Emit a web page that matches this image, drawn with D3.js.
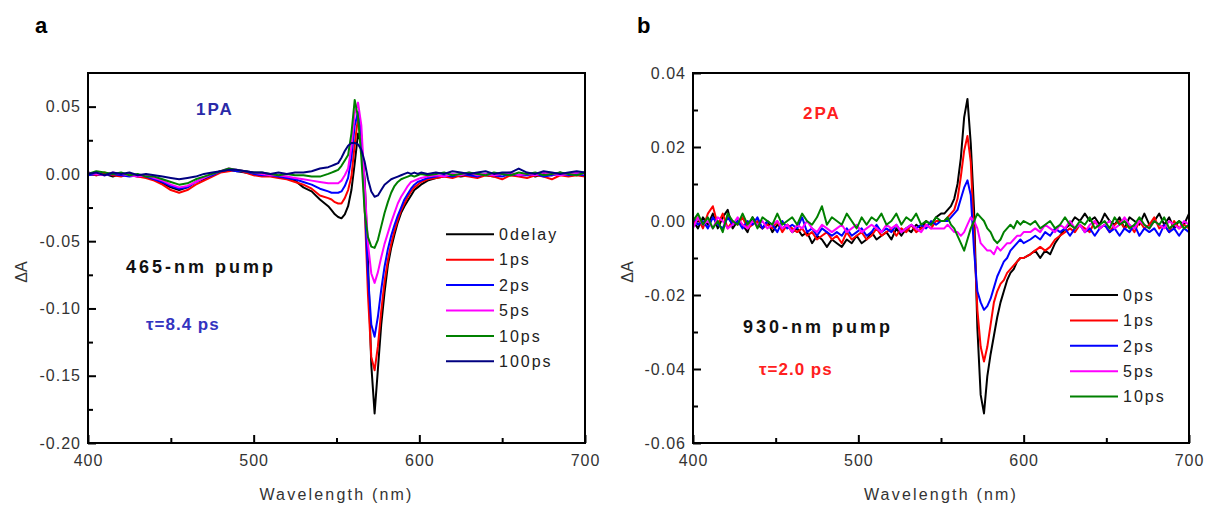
<!DOCTYPE html>
<html><head><meta charset="utf-8">
<script src="https://cdn.jsdelivr.net/npm/d3@7"></script>
<style>
body{margin:0;background:#fff}
svg{display:block}
text{font-family:Arial,"Liberation Sans",sans-serif}
</style>
</head><body>
<svg id="c" width="1208" height="506"></svg>
<script>
// ---------- Panel a data (465-nm pump, 1PA) ----------
const wlA = [...d3.range(400, 546, 5), ...d3.range(547, 602, 2), ...d3.range(605, 701, 5)];
const labelsA = ["0delay", "1ps", "2ps", "5ps", "10ps", "100ps"];
const colorsA = ["#000000", "#ff0000", "#0000ff", "#ff00ff", "#008000", "#000080"];
const a0delay = [0.001,-0.001,0.000,-0.002,0.000,-0.001,-0.002,-0.002,-0.004,-0.007,-0.010,-0.012,-0.010,-0.006,-0.004,-0.001,0.002,0.003,0.002,0.001,0.000,-0.001,-0.001,-0.002,-0.003,-0.005,-0.010,-0.013,-0.019,-0.024,
  -0.027,-0.030,-0.032,-0.033,-0.030,-0.024,-0.012,0.008,0.030,0.022,-0.004,-0.065,-0.142,-0.178,-0.145,-0.112,-0.088,-0.068,-0.055,-0.045,-0.036,-0.029,-0.024,-0.020,-0.016,-0.012,-0.010,-0.008,
  -0.005,-0.003,-0.002,-0.001,-0.002,-0.001,0.000,-0.001,-0.002,0.000,-0.001,-0.001,0.000,-0.002,0.000,-0.001,0.001,-0.001,0.000,0.001];
const a1ps = [0.000,-0.001,0.001,-0.001,-0.002,0.000,-0.002,-0.003,-0.005,-0.008,-0.012,-0.014,-0.012,-0.008,-0.005,-0.002,0.001,0.002,0.003,0.001,-0.001,-0.002,-0.002,-0.003,-0.004,-0.006,-0.008,-0.011,-0.016,-0.018,
  -0.019,-0.021,-0.022,-0.022,-0.018,-0.012,-0.002,0.022,0.042,0.028,-0.025,-0.090,-0.136,-0.146,-0.128,-0.102,-0.080,-0.064,-0.052,-0.042,-0.034,-0.027,-0.022,-0.017,-0.013,-0.010,-0.008,-0.006,
  -0.004,-0.003,-0.002,-0.003,-0.001,-0.002,-0.003,-0.001,-0.002,-0.004,-0.001,-0.002,-0.003,-0.001,-0.002,-0.004,-0.001,-0.002,-0.001,-0.002];
const a2ps = [-0.001,0.000,-0.001,0.000,-0.001,-0.002,-0.001,-0.002,-0.004,-0.006,-0.009,-0.011,-0.010,-0.006,-0.003,-0.001,0.002,0.003,0.002,0.002,0.000,-0.001,-0.001,-0.002,-0.003,-0.004,-0.006,-0.008,-0.011,-0.013,
  -0.014,-0.014,-0.014,-0.013,-0.009,-0.003,0.012,0.036,0.046,0.028,-0.020,-0.075,-0.112,-0.121,-0.106,-0.086,-0.069,-0.056,-0.046,-0.038,-0.031,-0.025,-0.019,-0.015,-0.011,-0.008,-0.006,-0.005,
  -0.003,-0.002,-0.001,-0.002,0.000,-0.001,-0.002,0.000,-0.001,-0.002,0.000,-0.001,-0.001,0.000,-0.002,-0.001,0.000,-0.001,0.000,-0.001];
const a5ps = [0.001,0.000,-0.001,0.001,0.000,-0.001,-0.002,-0.001,-0.003,-0.005,-0.008,-0.010,-0.009,-0.006,-0.003,0.000,0.002,0.004,0.003,0.002,0.001,0.000,-0.001,-0.001,-0.002,-0.003,-0.004,-0.005,-0.006,-0.007,
  -0.007,-0.007,-0.007,-0.005,-0.001,0.004,0.020,0.045,0.053,0.036,-0.008,-0.052,-0.074,-0.081,-0.073,-0.062,-0.052,-0.044,-0.036,-0.029,-0.022,-0.017,-0.013,-0.009,-0.006,-0.005,-0.004,-0.003,
  -0.002,-0.001,-0.002,0.000,-0.001,0.001,-0.001,0.000,-0.001,0.000,0.001,-0.001,0.000,-0.001,0.001,0.000,-0.001,0.000,0.001,0.000];
const a10ps = [0.000,0.002,0.001,0.000,0.001,-0.001,0.000,-0.002,-0.002,-0.004,-0.006,-0.008,-0.007,-0.004,-0.002,0.000,0.002,0.004,0.003,0.002,0.001,0.001,0.000,-0.001,0.000,-0.001,-0.001,-0.002,-0.002,0.000,
  0.001,0.002,0.003,0.006,0.010,0.014,0.030,0.055,0.042,0.012,-0.028,-0.047,-0.054,-0.055,-0.049,-0.039,-0.029,-0.021,-0.014,-0.009,-0.006,-0.004,-0.003,-0.002,-0.001,-0.002,-0.001,0.000,
  -0.001,0.000,0.001,-0.001,0.000,0.001,0.000,-0.001,0.001,0.000,-0.001,0.001,0.000,0.001,-0.001,0.000,0.001,0.000,-0.001,0.001];
const a100ps = [0.000,0.001,-0.001,0.001,0.000,0.001,-0.001,0.000,-0.001,-0.002,-0.003,-0.004,-0.003,-0.002,0.000,0.001,0.002,0.003,0.003,0.002,0.001,0.001,0.000,0.001,0.000,0.001,0.001,0.002,0.004,0.005,
  0.006,0.007,0.008,0.012,0.017,0.021,0.023,0.023,0.022,0.018,0.009,-0.004,-0.013,-0.017,-0.016,-0.012,-0.008,-0.006,-0.004,-0.003,-0.002,-0.001,0.000,0.001,0.000,0.001,0.000,0.001,
  0.000,0.001,0.000,0.002,0.001,0.000,0.001,0.002,0.000,0.001,0.001,0.004,0.001,0.000,0.002,0.001,0.000,0.001,0.002,0.001];

// ---------- Panel b data (930-nm pump, 2PA) ----------
const wlB = [...d3.range(400, 551, 3), ...d3.range(552, 601, 2), ...d3.range(604, 701, 3)];
const labelsB = ["0ps", "1ps", "2ps", "5ps", "10ps"];
const colorsB = ["#000000", "#ff0000", "#0000ff", "#ff00ff", "#008000"];
const b0ps = [0.000,-0.002,0.001,-0.001,0.002,-0.002,0.001,0.003,-0.002,0.000,-0.001,-0.003,0.001,-0.001,-0.002,0.000,-0.003,-0.001,-0.002,-0.001,-0.003,-0.002,-0.004,-0.003,-0.006,-0.004,-0.005,-0.007,-0.005,-0.006,-0.007,-0.005,-0.006,-0.004,-0.006,-0.005,-0.003,-0.005,-0.004,-0.003,-0.005,-0.002,-0.004,-0.002,-0.003,-0.001,-0.002,0.000,-0.001,0.001,0.002,
  0.002,0.003,0.004,0.006,0.010,0.017,0.028,0.033,0.021,0.003,-0.029,-0.047,-0.052,-0.042,-0.036,-0.031,-0.026,-0.022,-0.019,-0.016,-0.014,-0.013,-0.011,-0.010,-0.010,
  -0.009,-0.008,-0.010,-0.008,-0.009,-0.006,-0.004,-0.002,-0.001,0.001,0.000,0.002,0.000,0.001,-0.001,0.002,0.000,-0.001,0.001,-0.002,0.001,0.000,-0.001,0.002,-0.001,0.000,0.002,-0.001,0.001,-0.002,0.000,-0.001,0.002];
const b1ps = [-0.001,0.001,-0.002,0.002,0.004,-0.001,0.002,-0.002,0.000,-0.001,0.001,-0.002,-0.001,0.000,-0.002,-0.001,-0.002,0.000,-0.003,-0.001,-0.002,-0.003,-0.002,-0.004,-0.003,-0.005,-0.004,-0.003,-0.005,-0.004,-0.006,-0.003,-0.005,-0.004,-0.003,-0.005,-0.004,-0.002,-0.004,-0.003,-0.002,-0.004,-0.002,-0.003,-0.001,-0.003,-0.002,-0.001,-0.002,0.000,0.000,
  0.000,0.001,0.002,0.003,0.006,0.012,0.019,0.023,0.016,-0.004,-0.024,-0.034,-0.038,-0.034,-0.028,-0.022,-0.019,-0.017,-0.016,-0.014,-0.013,-0.012,-0.011,-0.010,-0.010,
  -0.009,-0.008,-0.007,-0.008,-0.007,-0.005,-0.004,-0.003,-0.002,-0.003,-0.001,-0.002,-0.003,0.000,-0.002,-0.001,-0.003,-0.001,0.000,-0.002,-0.001,-0.003,0.000,-0.002,-0.001,0.001,-0.002,-0.001,-0.003,0.000,-0.002,-0.001,-0.002];
const b2ps = [0.001,-0.001,0.000,-0.002,0.001,-0.001,-0.002,0.001,-0.001,0.000,-0.002,0.000,-0.001,0.001,-0.002,0.000,-0.001,-0.003,0.000,-0.002,-0.001,-0.002,0.001,-0.003,-0.002,-0.004,-0.002,-0.003,-0.004,-0.003,-0.004,-0.002,-0.004,-0.003,-0.002,-0.004,-0.003,-0.001,-0.003,-0.002,-0.003,-0.001,-0.003,-0.002,-0.001,-0.002,-0.001,-0.002,0.000,-0.001,0.000,
  0.000,0.000,0.001,0.002,0.003,0.006,0.009,0.011,0.007,-0.008,-0.019,-0.022,-0.024,-0.023,-0.021,-0.018,-0.015,-0.013,-0.011,-0.010,-0.008,-0.007,-0.006,-0.005,-0.006,
  -0.005,-0.004,-0.005,-0.003,-0.004,-0.002,-0.003,-0.002,-0.004,-0.002,-0.001,-0.003,-0.002,-0.004,-0.002,-0.001,-0.003,-0.002,-0.004,-0.002,-0.003,-0.001,-0.004,-0.002,-0.003,-0.002,-0.004,-0.001,-0.003,-0.002,-0.004,-0.002,-0.003];
const b5ps = [-0.002,0.001,-0.001,0.000,-0.002,0.001,0.000,-0.002,-0.001,0.001,-0.001,-0.002,0.000,-0.001,0.000,-0.002,-0.001,0.000,-0.002,-0.001,-0.003,-0.001,-0.002,0.000,-0.002,-0.003,-0.001,-0.002,-0.003,-0.002,-0.001,-0.003,-0.002,-0.001,-0.003,-0.002,-0.001,-0.002,-0.003,-0.001,-0.002,-0.001,-0.003,-0.002,-0.001,-0.002,-0.003,-0.001,-0.002,-0.002,-0.002,
  -0.002,-0.001,-0.002,-0.003,-0.003,-0.004,-0.003,-0.001,0.001,0.000,-0.002,-0.006,-0.007,-0.008,-0.008,-0.009,-0.007,-0.008,-0.007,-0.006,-0.006,-0.005,-0.004,-0.004,-0.003,
  -0.003,-0.002,-0.003,-0.001,-0.002,-0.003,-0.001,-0.002,0.000,-0.002,-0.001,-0.003,-0.001,0.000,-0.002,-0.001,0.000,-0.002,-0.001,0.001,-0.001,-0.002,0.000,-0.001,-0.002,0.000,-0.001,-0.002,0.000,-0.001,-0.002,0.000,-0.001];
const b10ps = [0.000,0.002,-0.001,0.001,-0.002,0.000,-0.003,0.002,0.000,-0.001,0.002,-0.001,0.001,-0.002,0.001,0.000,-0.001,0.002,-0.001,0.000,0.001,-0.001,0.002,0.000,-0.001,0.001,0.004,-0.001,0.001,0.000,-0.001,0.002,0.000,-0.002,0.001,-0.001,0.001,0.000,0.002,-0.001,0.000,0.002,-0.001,0.001,0.000,0.002,-0.001,0.000,-0.001,0.001,0.000,
  0.000,0.001,-0.001,-0.002,-0.004,-0.006,-0.008,-0.005,-0.002,0.000,0.002,0.001,0.000,-0.002,-0.003,-0.005,-0.006,-0.005,-0.003,-0.002,-0.001,-0.002,0.000,-0.001,0.000,
  -0.001,0.000,-0.002,-0.001,0.000,-0.002,-0.001,0.001,-0.001,-0.002,0.000,-0.001,0.001,-0.002,-0.001,0.000,-0.002,0.001,-0.001,0.000,-0.002,-0.001,0.001,-0.001,-0.002,0.000,-0.001,0.001,-0.002,-0.001,0.000,-0.002,-0.001];

// ---------- Axis tick values ----------
const xTicks = [400, 500, 600, 700];
const xMinor = [450, 550, 650];
const yTicksA = [0.05, 0.00, -0.05, -0.10, -0.15, -0.20];
const yMinorA = [0.025, -0.025, -0.075, -0.125, -0.175];
const yTicksB = [0.04, 0.02, 0.00, -0.02, -0.04, -0.06];
const yMinorB = [0.03, 0.01, -0.01, -0.03, -0.05];

const svg = d3.select("#c");
svg.append("rect").attr("width", 1208).attr("height", 506).attr("fill", "#fff");

function panel(o) {
  const x = d3.scaleLinear().domain([400, 700]).range([o.left, o.right]);
  const y = d3.scaleLinear().domain(o.yDomain).range([443, 73]);
  const g = svg.append("g");
  const fmt = d => d.toFixed(2).replace(/^-0\.00$/, "0.00");

  // minor ticks
  g.append("g").attr("transform", `translate(0,443)`)
    .call(d3.axisBottom(x).tickValues(xMinor).tickSizeInner(-5).tickSizeOuter(0).tickFormat(""))
    .call(s => s.select(".domain").remove());
  g.append("g").attr("transform", `translate(${o.left},0)`)
    .call(d3.axisLeft(y).tickValues(o.yMinor).tickSizeInner(-5).tickSizeOuter(0).tickFormat(""))
    .call(s => s.select(".domain").remove());
  // major ticks
  const gx = g.append("g").attr("transform", `translate(0,443)`)
    .call(d3.axisBottom(x).tickValues(xTicks).tickSizeInner(-8).tickSizeOuter(0).tickPadding(12).tickFormat(d3.format("d")));
  gx.select(".domain").remove();
  const gy = g.append("g").attr("transform", `translate(${o.left},0)`)
    .call(d3.axisLeft(y).tickValues(o.yTicks).tickSizeInner(-8).tickSizeOuter(0).tickPadding(7).tickFormat(fmt));
  gy.select(".domain").remove();
  g.selectAll(".tick line").attr("stroke", "#000").attr("stroke-width", 2);
  g.selectAll(".tick text").attr("fill", "#333").style("font-size", "16px").style("letter-spacing", "1px")
    .style("font-family", "Arial, 'Liberation Sans', sans-serif");

  // series
  const line = d3.line().x(d => x(d[0])).y(d => y(d[1]));
  o.series.forEach((vals, i) => {
    g.append("path").datum(o.wl.map((w, k) => [w, vals[k]]))
      .attr("fill", "none").attr("stroke", o.colors[i]).attr("stroke-width", 2)
      .attr("stroke-linejoin", "round").attr("d", line);
  });

  // frame
  g.append("rect").attr("x", o.left).attr("y", 73).attr("width", o.right - o.left).attr("height", 370)
    .attr("fill", "none").attr("stroke", "#000").attr("stroke-width", 2);

  // legend
  o.labels.forEach((lab, i) => {
    const ly = o.legY + i * 25.4;
    g.append("line").attr("x1", o.legX).attr("x2", o.legX + 48).attr("y1", ly).attr("y2", ly)
      .attr("stroke", o.colors[i]).attr("stroke-width", 2);
    g.append("text").attr("x", o.legX + 53).attr("y", ly).attr("dy", "0.36em")
      .attr("fill", "#222").style("font-size", "16px").style("letter-spacing", "2px").text(lab);
  });

  // axis titles
  g.append("text").attr("x", (o.left + o.right) / 2).attr("y", 500).attr("text-anchor", "middle")
    .attr("fill", "#333").style("font-size", "16px").style("letter-spacing", "2.2px").text("Wavelength (nm)");
  g.append("text").attr("transform", `translate(${o.yLabX},272) rotate(-90)`).attr("text-anchor", "middle")
    .attr("fill", "#333").style("font-size", "16px").text("ΔA");
  // panel letter
  g.append("text").attr("x", o.letterX).attr("y", 33).attr("fill", "#000")
    .style("font-size", "22px").style("font-weight", "bold").text(o.letter);
  // annotations
  o.notes.forEach(n => {
    g.append("text").attr("x", n.x).attr("y", n.y).attr("fill", n.c)
      .style("font-size", n.s + "px").style("font-weight", "bold").style("letter-spacing", (n.ls || 0) + "px").text(n.t);
  });
}

panel({
  left: 88, right: 585, yDomain: [-0.2, 0.075], yTicks: yTicksA, yMinor: yMinorA,
  wl: wlA, series: [a0delay, a1ps, a2ps, a5ps, a10ps, a100ps], colors: colorsA, labels: labelsA,
  legX: 446, legY: 234.3, yLabX: 27, letter: "a", letterX: 35,
  notes: [
    {t: "1PA", x: 196, y: 115, c: "#2a2aa8", s: 17, ls: 2},
    {t: "465-nm pump", x: 126, y: 273, c: "#111", s: 18, ls: 3},
    {t: "τ=8.4 ps", x: 146, y: 330, c: "#3333c0", s: 17, ls: 1}
  ]
});
panel({
  left: 693, right: 1189, yDomain: [-0.06, 0.04], yTicks: yTicksB, yMinor: yMinorB,
  wl: wlB, series: [b0ps, b1ps, b2ps, b5ps, b10ps], colors: colorsB, labels: labelsB,
  legX: 1070, legY: 295, yLabX: 633, letter: "b", letterX: 637,
  notes: [
    {t: "2PA", x: 803, y: 119, c: "#ff2020", s: 17, ls: 2},
    {t: "930-nm pump", x: 743, y: 333, c: "#111", s: 18, ls: 3},
    {t: "τ=2.0 ps", x: 759, y: 375, c: "#ff2020", s: 17, ls: 1}
  ]
});
</script>
</body></html>
